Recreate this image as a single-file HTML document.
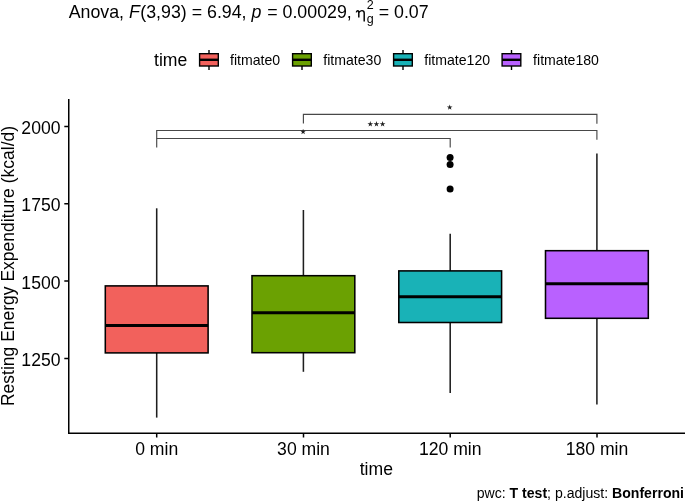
<!DOCTYPE html>
<html><head><meta charset="utf-8">
<style>
html,body{margin:0;padding:0;background:#fff;}
body{width:685px;height:501px;overflow:hidden;}
svg{display:block;will-change:transform;filter:blur(0.3px);}
text{font-family:"Liberation Sans",sans-serif;fill:#000;}
</style></head>
<body>
<svg width="685" height="501" viewBox="0 0 685 501">
<rect width="685" height="501" fill="#fff"/>
<text transform="translate(68.7,17.6) scale(1,1.0)" font-size="17.8">Anova, <tspan font-style="italic">F</tspan><tspan dx="0.4">(3,93) = 6.94, </tspan><tspan font-style="italic">p</tspan><tspan dx="0.9"> = 0.00029</tspan>,</text>
<path d="M356.3 12.4 C356.7 11.1 357.5 10.6 358.2 10.8 C358.7 11 358.8 11.7 358.8 12.5 L358.8 17.6 M358.8 12.8 C359.5 11.4 360.6 10.6 361.9 10.6 C363.4 10.6 364.2 11.5 364.2 13.1 L364.2 21.4" fill="none" stroke="#000" stroke-width="1.45"/>
<text transform="translate(366.8,8.5) scale(1,1.0)" font-size="12.5">2</text>
<text transform="translate(366.7,23.3) scale(1,1.0)" font-size="12.5">g</text>
<text transform="translate(378.7,17.6) scale(1,1.0)" font-size="17.8">= 0.07</text>
<text transform="translate(154,66.2) scale(1,1.0)" font-size="17.6">time</text>
<g stroke="#000" stroke-width="1.4">
<line x1="209" y1="50" x2="209" y2="70"/>
<rect x="199.6" y="53.7" width="18.7" height="12.3" fill="#F2615C"/>
<line x1="199.6" y1="59.8" x2="218.3" y2="59.8" stroke-width="2.4"/>
<line x1="302" y1="50" x2="302" y2="70"/>
<rect x="292.6" y="53.7" width="18.7" height="12.3" fill="#6BA102"/>
<line x1="292.6" y1="59.8" x2="311.3" y2="59.8" stroke-width="2.4"/>
<line x1="403" y1="50" x2="403" y2="70"/>
<rect x="393.6" y="53.7" width="18.7" height="12.3" fill="#19B2B7"/>
<line x1="393.6" y1="59.8" x2="412.3" y2="59.8" stroke-width="2.4"/>
<line x1="511.5" y1="50" x2="511.5" y2="70"/>
<rect x="502.1" y="53.7" width="18.7" height="12.3" fill="#B961FF"/>
<line x1="502.1" y1="59.8" x2="520.8" y2="59.8" stroke-width="2.4"/>
</g>
<text transform="translate(230,65.0) scale(1,1.0)" font-size="14.1">fitmate0</text>
<text transform="translate(323.3,65.0) scale(1,1.0)" font-size="14.1">fitmate30</text>
<text transform="translate(424.3,65.0) scale(1,1.0)" font-size="14.1">fitmate120</text>
<text transform="translate(533.1,65.0) scale(1,1.0)" font-size="14.1">fitmate180</text>
<g stroke="#000" stroke-width="1.5" fill="none">
  <path d="M68.75 99 V433.2 H685"/>
  <path d="M64.3 126.4 H68.7 M64.3 203.8 H68.7 M64.3 281.1 H68.7 M64.3 358.4 H68.7"/>
  <path d="M156.7 433.2 V437.4 M303.5 433.2 V437.4 M450.2 433.2 V437.4 M597 433.2 V437.4"/>
</g>
<text transform="translate(60.5,134.0) scale(1,1.0)" font-size="17.6" text-anchor="end">2000</text>
<text transform="translate(60.5,211.3) scale(1,1.0)" font-size="17.6" text-anchor="end">1750</text>
<text transform="translate(60.5,288.6) scale(1,1.0)" font-size="17.6" text-anchor="end">1500</text>
<text transform="translate(60.5,365.9) scale(1,1.0)" font-size="17.6" text-anchor="end">1250</text>
<text transform="translate(156.7,454.5) scale(1,1.0)" font-size="17.6" text-anchor="middle">0 min</text>
<text transform="translate(303.5,454.5) scale(1,1.0)" font-size="17.6" text-anchor="middle">30 min</text>
<text transform="translate(450.2,454.5) scale(1,1.0)" font-size="17.6" text-anchor="middle">120 min</text>
<text transform="translate(597,454.5) scale(1,1.0)" font-size="17.6" text-anchor="middle">180 min</text>
<text transform="translate(376.3,474.8) scale(1,1.0)" font-size="17.6" text-anchor="middle">time</text>
<text transform="translate(13.6,266) rotate(-90) scale(1,1.0)" font-size="17.5" text-anchor="middle">Resting Energy Expenditure (kcal/d)</text>
<g stroke="#000" stroke-width="1.55">
<line x1="156.7" y1="208.3" x2="156.7" y2="417.6" stroke="#1e1e1e"/>
<rect x="105.3" y="285.9" width="102.8" height="67.0" fill="#F2615C"/>
<line x1="105.3" y1="325.5" x2="208.1" y2="325.5" stroke-width="3"/>
<line x1="303.4" y1="210" x2="303.4" y2="371.8" stroke="#1e1e1e"/>
<rect x="252.0" y="275.7" width="102.8" height="77.0" fill="#6BA102"/>
<line x1="252.0" y1="312.7" x2="354.8" y2="312.7" stroke-width="3"/>
<line x1="450.2" y1="233.7" x2="450.2" y2="393" stroke="#1e1e1e"/>
<rect x="398.8" y="270.9" width="102.8" height="51.6" fill="#19B2B7"/>
<line x1="398.8" y1="296.8" x2="501.6" y2="296.8" stroke-width="3"/>
<line x1="596.9" y1="153.5" x2="596.9" y2="404.6" stroke="#1e1e1e"/>
<rect x="545.5" y="250.7" width="102.8" height="67.6" fill="#B961FF"/>
<line x1="545.5" y1="283.7" x2="648.3" y2="283.7" stroke-width="3"/>
</g>
<g fill="#000"><circle cx="450.1" cy="157.5" r="3.5"/><circle cx="450.1" cy="164.5" r="3.5"/><circle cx="450.1" cy="189" r="3.5"/></g>
<g stroke="#484848" stroke-width="1.15" fill="none">
  <path d="M303.4 123.6 V114.4 H596.9 V123.7"/>
  <path d="M156.7 147.6 V130.5 H596.9 V139.8"/>
  <path d="M156.7 138.5 H450.2 V147.4"/>
</g>
<path fill="#202020" d="M449.70 104.40 L450.38 106.47 L452.55 106.47 L450.79 107.76 L451.46 109.83 L449.70 108.55 L447.94 109.83 L448.61 107.76 L446.85 106.47 L449.02 106.47Z M370.30 121.10 L370.98 123.17 L373.15 123.17 L371.39 124.46 L372.06 126.53 L370.30 125.25 L368.54 126.53 L369.21 124.46 L367.45 123.17 L369.62 123.17Z M376.45 121.10 L377.13 123.17 L379.30 123.17 L377.54 124.46 L378.21 126.53 L376.45 125.25 L374.69 126.53 L375.36 124.46 L373.60 123.17 L375.77 123.17Z M382.60 121.10 L383.28 123.17 L385.45 123.17 L383.69 124.46 L384.36 126.53 L382.60 125.25 L380.84 126.53 L381.51 124.46 L379.75 123.17 L381.92 123.17Z M303.10 128.75 L303.78 130.82 L305.95 130.82 L304.19 132.11 L304.86 134.18 L303.10 132.90 L301.34 134.18 L302.01 132.11 L300.25 130.82 L302.42 130.82Z"/>
<text transform="translate(684.0,498.0) scale(1,1.0)" font-size="14.08" text-anchor="end">pwc: <tspan font-weight="bold">T test</tspan>; p.adjust: <tspan font-weight="bold">Bonferroni</tspan></text>
</svg>
</body></html>
